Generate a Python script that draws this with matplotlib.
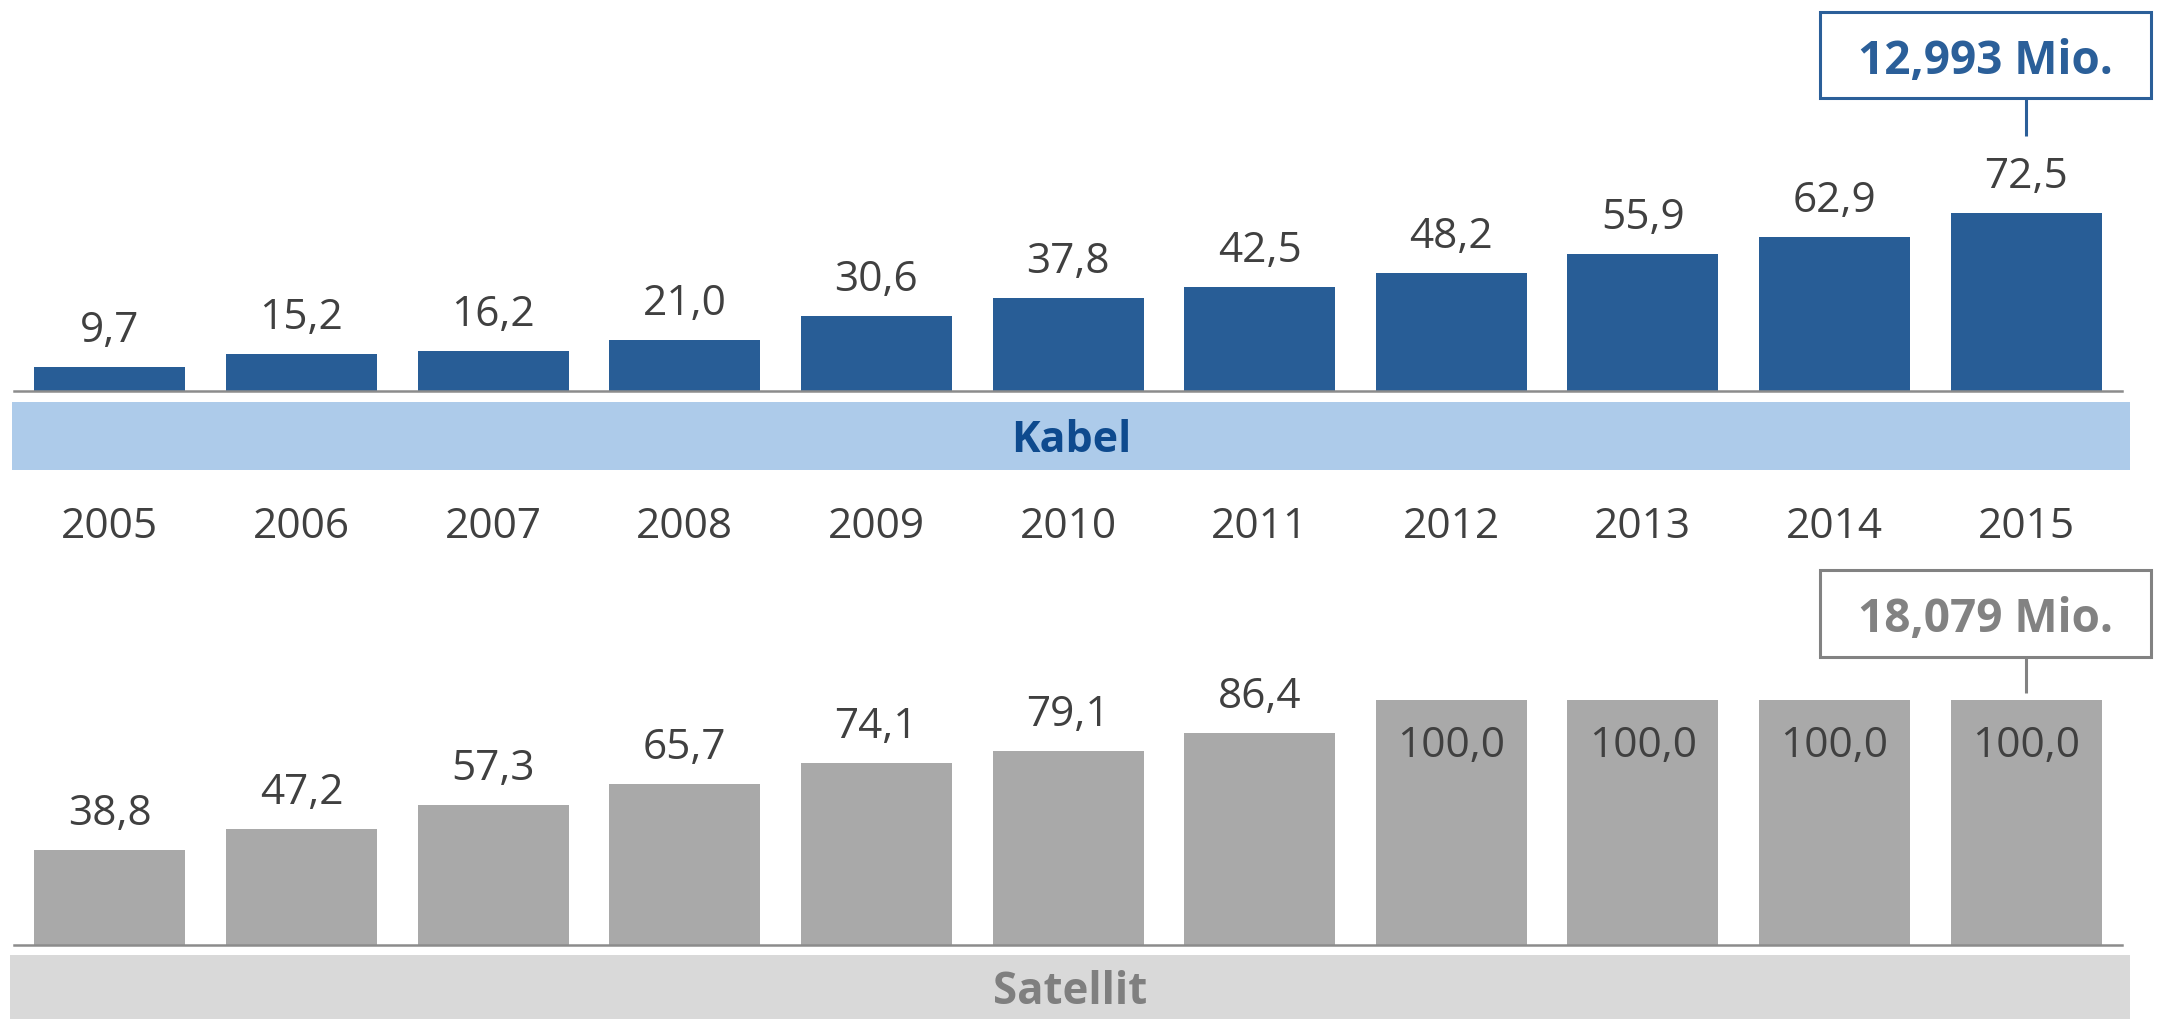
import matplotlib
matplotlib.use("Agg")
import matplotlib.pyplot as plt
from matplotlib.patches import Rectangle

# ---- data ----
years = ["2005", "2006", "2007", "2008", "2009", "2010", "2011", "2012", "2013", "2014", "2015"]
kabel = [9.7, 15.2, 16.2, 21.0, 30.6, 37.8, 42.5, 48.2, 55.9, 62.9, 72.5]
satellit = [38.8, 47.2, 57.3, 65.7, 74.1, 79.1, 86.4, 100.0, 100.0, 100.0, 100.0]
kabel_total = "12,993 Mio."
satellit_total = "18,079 Mio."
kabel_name = "Kabel"
satellit_name = "Satellit"

# ---- style ----
W, H, DPI = 2161, 1019, 100
FONT = "Open Sans"
BLUE = "#285D96"
BLUE_BOX = "#2B5F99"
BLUE_TEXT = "#0E4A8E"
BLUE_BAND = "#ADCBEA"
GREY = "#A9A9A9"
GREY_BOX = "#828282"
GREY_TEXT = "#7F7F7F"
GREY_BAND = "#D9D9D9"
LABEL = "#404040"
AXLINE = "#8C8C8C"
PPU = 2.45          # pixels per data unit
LEFT_PX, RIGHT_PX = 14, 2122

plt.rcParams["font.family"] = [FONT, "DejaVu Sans"]

fig = plt.figure(figsize=(W / DPI, H / DPI), dpi=DPI)
fig.patch.set_facecolor("white")


def fx(px):
    return px / W


def fy(py):
    return (H - py) / H


pitch = (RIGHT_PX - LEFT_PX) / len(years)


def xd(px):
    return (px - LEFT_PX) / pitch - 0.5


def make_axes(base_px, top_px):
    ax = fig.add_axes([fx(LEFT_PX), fy(base_px), fx(RIGHT_PX - LEFT_PX), (base_px - top_px) / H])
    ax.set_xlim(-0.5, len(years) - 0.5)
    ax.set_ylim(0, (base_px - top_px) / PPU)
    for s in ["top", "left", "right"]:
        ax.spines[s].set_visible(False)
    ax.spines["bottom"].set_color(AXLINE)
    ax.spines["bottom"].set_linewidth(1.8)
    ax.set_xticks([])
    ax.set_yticks([])
    ax.patch.set_alpha(0)
    return ax


x = list(range(len(years)))
bw = 151 / pitch

# ---------- top: Kabel ----------
TOP_BASE = 391
ax1 = make_axes(TOP_BASE, 0)
ax1.bar(x, kabel, width=bw, color=BLUE, zorder=1)
for xi, v in zip(x, kabel):
    ax1.annotate(f"{v:.1f}".replace(".", ","), xy=(xi, v), xytext=(0, 25),
                 textcoords="offset pixels", ha="center", va="baseline",
                 fontsize=30.5, color=LABEL, annotation_clip=False)

# total box (Kabel)
yd1 = lambda py: (TOP_BASE - py) / PPU
ax1.add_patch(Rectangle((xd(1820), yd1(98)), xd(2151) - xd(1820), yd1(12) - yd1(98),
                        fill=True, facecolor="white", edgecolor=BLUE_BOX, lw=2.2,
                        clip_on=False, zorder=3))
ax1.text((xd(1820) + xd(2151)) / 2, yd1(74), kabel_total, ha="center", va="baseline",
         fontsize=33, fontweight="bold", color=BLUE_BOX, clip_on=False, zorder=4)
ax1.plot([x[-1], x[-1]], [kabel[-1] + 77 / PPU, yd1(98)], color=BLUE_BOX, lw=2.2,
         clip_on=False, zorder=2, solid_capstyle="butt")

# band + name (Kabel)
fig.patches.append(Rectangle((fx(12), fy(470)), fx(2130 - 12), (470 - 402) / H,
                             transform=fig.transFigure, facecolor=BLUE_BAND, edgecolor="none"))
fig.text(fx(1071), fy(452), kabel_name, ha="center", va="baseline", fontsize=31,
         fontweight="bold", color=BLUE_TEXT)

# year labels
for xi, yr in zip(x, years):
    ax1.text(xi, -(538 - TOP_BASE) / PPU, yr, ha="center", va="baseline",
             fontsize=30.5, color=LABEL, clip_on=False)

# ---------- bottom: Satellit ----------
BOT_BASE = 945
ax2 = make_axes(BOT_BASE, 545)
ax2.bar(x, satellit, width=bw, color=GREY, zorder=1)
smax = max(satellit)
for xi, v in zip(x, satellit):
    inside = v >= smax
    ax2.annotate(f"{v:.1f}".replace(".", ","), xy=(xi, v), xytext=(0, -57 if inside else 25),
                 textcoords="offset pixels", ha="center", va="baseline",
                 fontsize=30.5, color=LABEL, annotation_clip=False)

yd2 = lambda py: (BOT_BASE - py) / PPU
ax2.add_patch(Rectangle((xd(1820), yd2(657)), xd(2151) - xd(1820), yd2(570) - yd2(657),
                        fill=True, facecolor="white", edgecolor=GREY_BOX, lw=2.2,
                        clip_on=False, zorder=3))
ax2.text((xd(1820) + xd(2151)) / 2, yd2(632), satellit_total, ha="center", va="baseline",
         fontsize=33, fontweight="bold", color=GREY_BOX, clip_on=False, zorder=4)
ax2.plot([x[-1], x[-1]], [satellit[-1] + 7 / PPU, yd2(657)], color=GREY_BOX, lw=2.2,
         clip_on=False, zorder=2, solid_capstyle="butt")

fig.patches.append(Rectangle((fx(10), fy(1025)), fx(2130 - 10), (1025 - 955) / H,
                             transform=fig.transFigure, facecolor=GREY_BAND, edgecolor="none"))
fig.text(fx(1070), fy(1004), satellit_name, ha="center", va="baseline", fontsize=31.5,
         fontweight="bold", color=GREY_TEXT)

fig.savefig("out.png", dpi=DPI, facecolor="white")
